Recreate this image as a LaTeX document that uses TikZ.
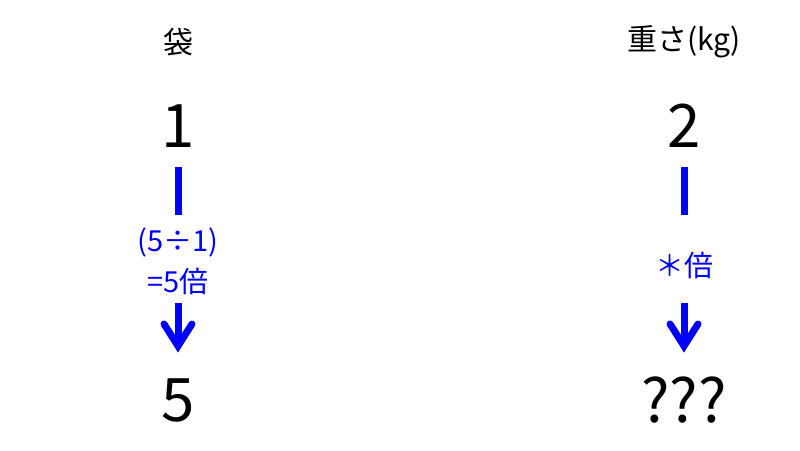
\documentclass[tikz,border=0pt]{standalone}
\usepackage{fontspec}
\setmainfont{Noto Sans CJK JP}
\definecolor{pblue}{RGB}{0,0,255}
\tikzset{
  head/.style={font=\fontsize{30}{34}\selectfont, text=black, inner sep=0pt},
  big/.style={font=\fontsize{60}{68}\selectfont, text=black, inner sep=0pt},
  lab/.style={font=\fontsize{29}{34}\selectfont, text=pblue, inner sep=0pt, align=center},
  bar/.style={draw=pblue, line width=7pt},
  wing/.style={draw=pblue, line width=7pt, line cap=round, line join=miter},
}
\begin{document}
\begin{tikzpicture}[x=1pt,y=-1pt]
\useasboundingbox[fill=white] (0,0) rectangle (800,450);
% headers
\node[head] (h1) at (178,42) {袋};
\node[head] (h2) at (684,42) {重さ(kg)};
% top numbers
\node[big] (n1) at (178,126) {1};
\node[big] (n2) at (684,126) {2};
% bars
\coordinate (b1a) at (178,167);
\coordinate (b1b) at (178,215);
\coordinate (b2a) at (684,167);
\coordinate (b2b) at (684,215);
\draw[bar] (b1a) -- (b1b);
\draw[bar] (b2a) -- (b2b);
% labels
\node[lab] (l1a) at (178,242) {(5÷1)};
\node[lab] (l1b) at (178,281) {=5倍};
\node[lab] (l2) at (684,265) {＊倍};
% arrows
\coordinate (a1a) at (178,303);
\coordinate (a1b) at (178,346);
\coordinate (a2a) at (684,303);
\coordinate (a2b) at (684,346);
\draw[bar] (a1a) -- (a1b);
\draw[bar] (a2a) -- (a2b);
\draw[wing] ([shift={(-14,-22)}]a1b) -- (a1b) -- ([shift={(14,-22)}]a1b);
\draw[wing] ([shift={(-14,-22)}]a2b) -- (a2b) -- ([shift={(14,-22)}]a2b);
% bottom
\node[big] (m1) at (178,400) {5};
\node[big] (m2) at (684,400) {???};
\end{tikzpicture}
\end{document}
